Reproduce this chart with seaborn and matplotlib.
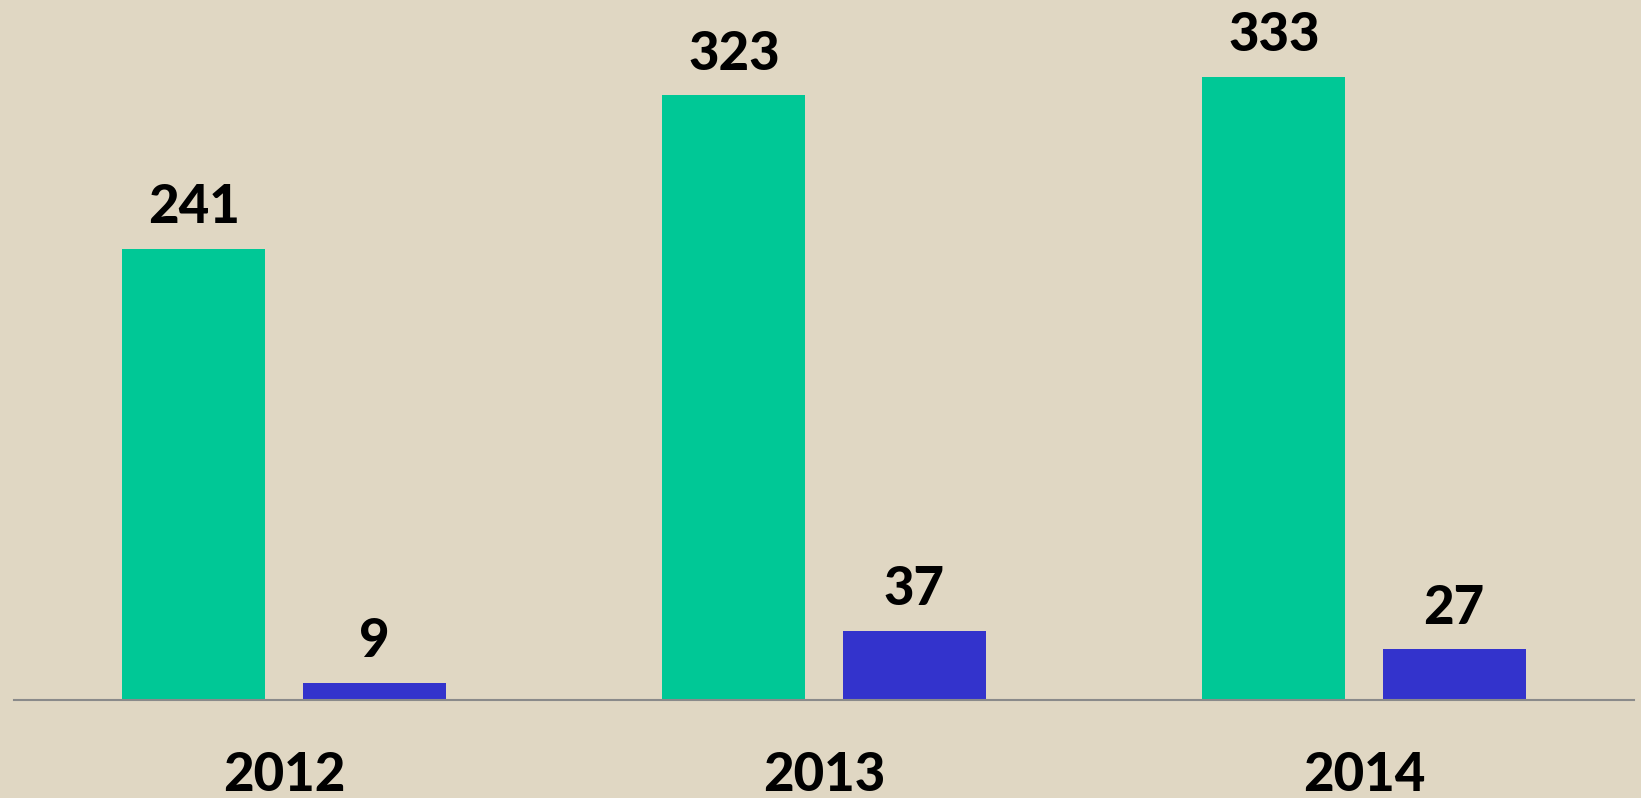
import matplotlib
matplotlib.use("Agg")
import matplotlib.pyplot as plt
import seaborn as sns
import pandas as pd

years = ["2012", "2013", "2014"]
series_names = ["A", "B"]
series_a = [241, 323, 333]
series_b = [9, 37, 27]
colors = ["#00C896", "#3333CC"]

df = pd.DataFrame({
    "year": years * 2,
    "series": [series_names[0]] * 3 + [series_names[1]] * 3,
    "value": series_a + series_b,
})

sns.set_theme(style="white")
plt.rcParams["font.family"] = ["Lato", "DejaVu Sans"]

bg = "#E0D7C3"
fig = plt.figure(figsize=(16.41, 7.98), dpi=100, facecolor=bg)
ax = fig.add_axes([14 / 1641, 98 / 798, 1620 / 1641, 700 / 798])
ax.set_facecolor(bg)

sns.barplot(data=df, x="year", y="value", hue="series", order=years,
            hue_order=series_names, palette=colors, width=0.668, gap=0.207,
            saturation=1, linewidth=0, edgecolor="none", ax=ax, legend=False)

ax.set_xlim(-0.5, 2.5)
ax.set_ylim(0, 374)
for c in ax.containers:
    ax.bar_label(c, labels=[f"{v:.0f}" for v in c.datavalues], padding=12,
                 fontsize=38, fontweight="black", color="black")

for s in ["top", "right", "left"]:
    ax.spines[s].set_visible(False)
ax.spines["bottom"].set_color("#8A8A8A")
ax.spines["bottom"].set_linewidth(1.5)
ax.set_yticks([])
ax.set_xlabel("")
ax.set_ylabel("")
ax.tick_params(axis="x", length=0, pad=37)
for lbl in ax.get_xticklabels():
    lbl.set_fontsize(38)
    lbl.set_fontweight("black")
    lbl.set_color("black")

fig.savefig("out.png", dpi=100, facecolor=bg)
